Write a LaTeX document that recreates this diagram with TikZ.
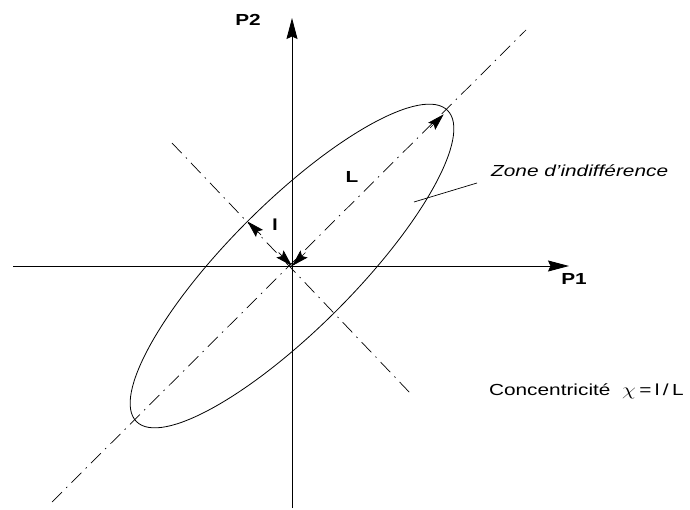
\documentclass[tikz,border=0pt]{standalone}
\usepackage{fontspec}
\usepackage{graphicx}
\setmainfont{Liberation Sans}
\usetikzlibrary{arrows.meta,shapes.geometric,calc}
\newcommand\hstretch[1]{\scalebox{1.3}[1]{#1}}
\begin{document}
\begin{tikzpicture}[x=1pt,y=-1pt,
  axis/.style={line width=0.9pt,-{Stealth[length=21pt,width=11pt,inset=2.5pt]}},
  dashdot/.style={line width=0.7pt,dash pattern=on 14pt off 6pt on 1.5pt off 6pt},
  dimarrow/.style={line width=0.7pt,-{Stealth[length=17pt,width=10pt,inset=3pt]}},
  lbl/.style={font=\fontsize{16}{18}\selectfont, inner sep=0pt},
  blbl/.style={font=\fontsize{16}{18}\selectfont\bfseries, inner sep=0pt},
  ellzone/.style={draw, ellipse, line width=0.8pt, inner sep=0pt, outer sep=0pt,
    minimum width=440pt, minimum height=126pt}]
\useasboundingbox (0,0) rectangle (690,510);
% origin and axis ends
\coordinate (O) at (292,266);
\coordinate (xl) at (13,266);
\coordinate (xr) at (569,266);
\coordinate (yb) at (292,508);
\coordinate (yt) at (292,18);
\coordinate (ma) at (52,502);
\coordinate (mb) at (526,30);
\coordinate (na) at (172,143);
\coordinate (nb) at (411,394);
% axes
\draw[axis] (xl) -- (xr);
\draw[axis] (yb) -- (yt);
\node[blbl] (p1) at (574,279) {\hstretch{P1}};
\node[blbl] (p2) at (248,20) {\hstretch{P2}};
% dash-dot principal axes
\draw[dashdot] (ma) -- (mb);
\draw[dashdot] (na) -- (nb);
% ellipse
\node[ellzone, rotate=45] (ell) at (O) {};
% dimension arrows
\coordinate (Ltip) at ($(O)!0.975!(ell.east)$);
\draw[dimarrow] ($(O)!19pt!(Ltip)$) -- (O);
\draw[dimarrow] ($(Ltip)!19pt!(O)$) -- (Ltip);
\draw[dimarrow] ($(O)!19pt!(ell.north)$) -- (O);
\draw[dimarrow] ($(ell.north)!19pt!(O)$) -- (ell.north);
\node[blbl] (L) at (352,177) {\hstretch{L}};
\node[blbl] (l) at (275,225) {\hstretch{l}};
% labels
\node[lbl, anchor=base west] (zone) at (491,177) {\hstretch{\itshape Zone d'indifférence}};
\coordinate (z1) at (414,202);
\coordinate (z2) at (477,183);
\draw[line width=0.7pt] (z1) -- (z2);
\node[lbl, anchor=base east] (conc) at (684,395) {\hstretch{Concentricité\ \ $\chi$\,=\,l\,/\,L}};
\end{tikzpicture}
\end{document}
